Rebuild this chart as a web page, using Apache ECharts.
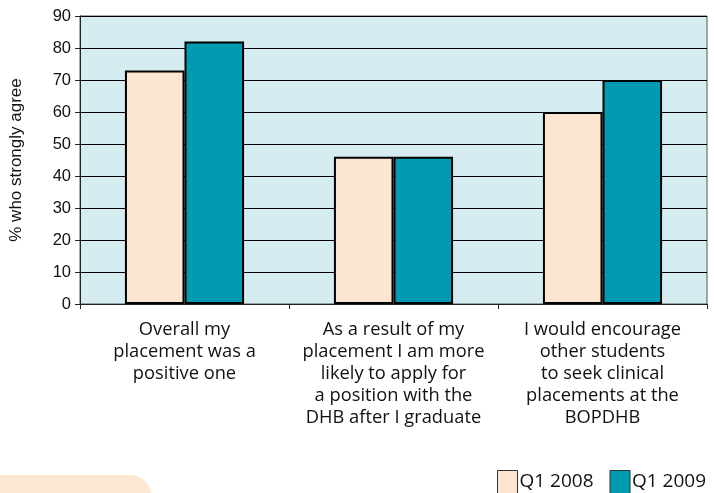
<!DOCTYPE html>
<html>
<head>
<meta charset="utf-8">
<script src="https://cdn.jsdelivr.net/npm/echarts@6/dist/echarts.min.js"></script>
<style>
  html, body { margin: 0; padding: 0; background: #fff; }
  #main { width: 714px; height: 493px; }
</style>
</head>
<body>
<div id="main"></div>
<script>
var categories = [
  'Overall my\nplacement was a\npositive one',
  'As a result of my\nplacement I am more\nlikely to apply for\na position with the\nDHB after I graduate',
  'I would encourage\nother students\nto seek clinical\nplacements at the\nBOPDHB'
];
var q1_2008 = [73, 46, 60];
var q1_2009 = [82, 46, 70];
var yTicks = [0, 10, 20, 30, 40, 50, 60, 70, 80, 90];

var chartDom = document.getElementById('main');
var myChart = echarts.init(chartDom);
var option = {
  animation: false,
  graphic: [
    {
      // peach decoration bottom left
      type: 'rect',
      left: -20,
      top: 475,
      shape: { width: 172, height: 60, r: [0, 22, 0, 0] },
      style: { fill: '#fde7d2' }
    }
  ],
  legend: {
    left: 497,
    top: 470,
    width: 240,
    padding: 0,
    icon: 'rect',
    itemWidth: 20,
    itemHeight: 23,
    itemGap: 16,
    itemStyle: { borderColor: '#333', borderWidth: 1 },
    textStyle: { fontFamily: 'Open Sans', fontSize: 19, color: '#111', padding: [0, 0, 0, -3] },
    data: ['Q1 2008', 'Q1 2009']
  },
  grid: {
    left: 80,
    right: 7,
    top: 16,
    bottom: 189,
    show: true,
    backgroundColor: '#d5ecf0',
    borderColor: '#555',
    borderWidth: 1
  },
  xAxis: {
    type: 'category',
    data: categories,
    axisLine: { lineStyle: { color: '#222', width: 1 } },
    axisTick: { show: true, length: 5, lineStyle: { color: '#222' } },
    axisLabel: {
      fontFamily: 'Open Sans',
      fontSize: 18.3,
      lineHeight: 22,
      color: '#111',
      margin: 15,
      interval: 0
    }
  },
  yAxis: {
    type: 'value',
    min: yTicks[0],
    max: yTicks[yTicks.length - 1],
    interval: 10,
    name: '% who strongly agree',
    nameLocation: 'middle',
    nameGap: 55,
    nameTextStyle: { fontFamily: 'Liberation Sans', fontSize: 17, color: '#111' },
    axisLine: { show: true, lineStyle: { color: '#222', width: 1 } },
    axisTick: { show: true, length: 5, lineStyle: { color: '#222' } },
    axisLabel: { fontFamily: 'Liberation Sans', fontSize: 16.5, color: '#111', margin: 9 },
    splitLine: { lineStyle: { color: '#000', width: 1.2 } }
  },
  series: [
    {
      name: 'Q1 2008',
      type: 'bar',
      data: q1_2008,
      barWidth: '28.5%',
      barGap: '0%',
      itemStyle: { color: '#fde6d1', borderColor: '#000', borderWidth: 2 }
    },
    {
      name: 'Q1 2009',
      type: 'bar',
      data: q1_2009,
      barWidth: '28.5%',
      itemStyle: { color: '#009bb0', borderColor: '#000', borderWidth: 2 }
    }
  ]
};
option && myChart.setOption(option);
</script>
</body>
</html>
